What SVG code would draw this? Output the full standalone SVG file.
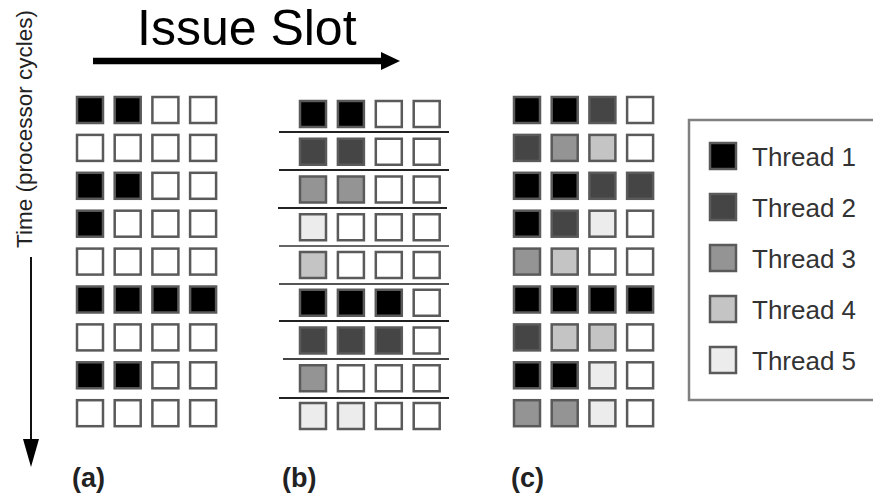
<svg xmlns="http://www.w3.org/2000/svg" width="873" height="495" viewBox="0 0 873 495">
<style>
rect.c{stroke:#5a5a5a;stroke-width:2.5;width:26px;height:26px}
.t0{fill:#ffffff}
.t1{fill:#000000}
.t2{fill:#454545}
.t3{fill:#949494}
.t4{fill:#c4c4c4}
.t5{fill:#ececec}
.sep{stroke:#222;stroke-width:2}
.lbl{font-family:"Liberation Sans",Arial,sans-serif;font-weight:bold;font-size:27px;fill:#222}
.leg{font-family:"Liberation Sans",Arial,sans-serif;font-size:26px;fill:#333}
</style>
<rect width="873" height="495" fill="#fff"/>
<g id="title">
<text x="137" y="45" font-family="Liberation Sans, Arial, sans-serif" font-size="50" fill="#000">Issue Slot</text>
</g>
<g id="time-label">
<text transform="translate(32,248) rotate(-90)" font-family="Liberation Sans, Arial, sans-serif" font-size="22.5" fill="#222">Time (processor cycles)</text>
</g>
<g id="connectors">
<line x1="93" y1="61" x2="384" y2="61" stroke="#000" stroke-width="6.5"/>
<polygon points="381,52 400,61 381,70" fill="#000"/>
<line x1="31" y1="257" x2="31" y2="442" stroke="#111" stroke-width="2"/>
<polygon points="23,439 39,439 31,467" fill="#000"/>
</g>
<g id="panel-a" transform="translate(76,96)">
<rect class="c t1" x="1" y="1"/><rect class="c t1" x="38.7" y="1"/><rect class="c t0" x="76.4" y="1"/><rect class="c t0" x="114.1" y="1"/>
<rect class="c t0" x="1" y="38.9"/><rect class="c t0" x="38.7" y="38.9"/><rect class="c t0" x="76.4" y="38.9"/><rect class="c t0" x="114.1" y="38.9"/>
<rect class="c t1" x="1" y="76.8"/><rect class="c t1" x="38.7" y="76.8"/><rect class="c t0" x="76.4" y="76.8"/><rect class="c t0" x="114.1" y="76.8"/>
<rect class="c t1" x="1" y="114.7"/><rect class="c t0" x="38.7" y="114.7"/><rect class="c t0" x="76.4" y="114.7"/><rect class="c t0" x="114.1" y="114.7"/>
<rect class="c t0" x="1" y="152.6"/><rect class="c t0" x="38.7" y="152.6"/><rect class="c t0" x="76.4" y="152.6"/><rect class="c t0" x="114.1" y="152.6"/>
<rect class="c t1" x="1" y="190.5"/><rect class="c t1" x="38.7" y="190.5"/><rect class="c t1" x="76.4" y="190.5"/><rect class="c t1" x="114.1" y="190.5"/>
<rect class="c t0" x="1" y="228.4"/><rect class="c t0" x="38.7" y="228.4"/><rect class="c t0" x="76.4" y="228.4"/><rect class="c t0" x="114.1" y="228.4"/>
<rect class="c t1" x="1" y="266.3"/><rect class="c t1" x="38.7" y="266.3"/><rect class="c t0" x="76.4" y="266.3"/><rect class="c t0" x="114.1" y="266.3"/>
<rect class="c t0" x="1" y="304.2"/><rect class="c t0" x="38.7" y="304.2"/><rect class="c t0" x="76.4" y="304.2"/><rect class="c t0" x="114.1" y="304.2"/>
</g>
<g id="label-a"><text class="lbl" x="72" y="487">(a)</text></g>
<g id="panel-b">
<line class="sep" x1="279" y1="132" x2="449" y2="132"/>
<line class="sep" x1="279" y1="170" x2="449" y2="170"/>
<line class="sep" x1="278" y1="208" x2="447" y2="208"/>
<line class="sep" x1="279" y1="246" x2="449" y2="246" style="stroke:#666"/>
<line class="sep" x1="279" y1="284" x2="449" y2="284" style="stroke:#555"/>
<line class="sep" x1="279" y1="321" x2="449" y2="321"/>
<line class="sep" x1="283" y1="359" x2="449" y2="359" style="stroke:#444"/>
<line class="sep" x1="279" y1="398" x2="449" y2="398"/>
<g transform="translate(299,100)">
<rect class="c t1" x="1" y="1"/><rect class="c t1" x="38.9" y="1"/><rect class="c t0" x="76.8" y="1"/><rect class="c t0" x="114.7" y="1"/>
<rect class="c t2" x="1" y="38.75"/><rect class="c t2" x="38.9" y="38.75"/><rect class="c t0" x="76.8" y="38.75"/><rect class="c t0" x="114.7" y="38.75"/>
<rect class="c t3" x="1" y="76.5"/><rect class="c t3" x="38.9" y="76.5"/><rect class="c t0" x="76.8" y="76.5"/><rect class="c t0" x="114.7" y="76.5"/>
<rect class="c t5" x="1" y="114.25"/><rect class="c t0" x="38.9" y="114.25"/><rect class="c t0" x="76.8" y="114.25"/><rect class="c t0" x="114.7" y="114.25"/>
<rect class="c t4" x="1" y="152"/><rect class="c t0" x="38.9" y="152"/><rect class="c t0" x="76.8" y="152"/><rect class="c t0" x="114.7" y="152"/>
<rect class="c t1" x="1" y="189.75"/><rect class="c t1" x="38.9" y="189.75"/><rect class="c t1" x="76.8" y="189.75"/><rect class="c t0" x="114.7" y="189.75"/>
<rect class="c t2" x="1" y="227.5"/><rect class="c t2" x="38.9" y="227.5"/><rect class="c t2" x="76.8" y="227.5"/><rect class="c t0" x="114.7" y="227.5"/>
<rect class="c t3" x="1" y="265.25"/><rect class="c t0" x="38.9" y="265.25"/><rect class="c t0" x="76.8" y="265.25"/><rect class="c t0" x="114.7" y="265.25"/>
<rect class="c t5" x="1" y="303"/><rect class="c t5" x="38.9" y="303"/><rect class="c t0" x="76.8" y="303"/><rect class="c t0" x="114.7" y="303"/>
</g>
</g>
<g id="label-b"><text class="lbl" x="282" y="487">(b)</text></g>
<g id="panel-c" transform="translate(513,96)">
<rect class="c t1" x="1" y="1"/><rect class="c t1" x="38.7" y="1"/><rect class="c t2" x="76.4" y="1"/><rect class="c t0" x="114.1" y="1"/>
<rect class="c t2" x="1" y="38.9"/><rect class="c t3" x="38.7" y="38.9"/><rect class="c t4" x="76.4" y="38.9"/><rect class="c t0" x="114.1" y="38.9"/>
<rect class="c t1" x="1" y="76.8"/><rect class="c t1" x="38.7" y="76.8"/><rect class="c t2" x="76.4" y="76.8"/><rect class="c t2" x="114.1" y="76.8"/>
<rect class="c t1" x="1" y="114.7"/><rect class="c t2" x="38.7" y="114.7"/><rect class="c t5" x="76.4" y="114.7"/><rect class="c t0" x="114.1" y="114.7"/>
<rect class="c t3" x="1" y="152.6"/><rect class="c t4" x="38.7" y="152.6"/><rect class="c t0" x="76.4" y="152.6"/><rect class="c t0" x="114.1" y="152.6"/>
<rect class="c t1" x="1" y="190.5"/><rect class="c t1" x="38.7" y="190.5"/><rect class="c t1" x="76.4" y="190.5"/><rect class="c t1" x="114.1" y="190.5"/>
<rect class="c t2" x="1" y="228.4"/><rect class="c t4" x="38.7" y="228.4"/><rect class="c t4" x="76.4" y="228.4"/><rect class="c t0" x="114.1" y="228.4"/>
<rect class="c t1" x="1" y="266.3"/><rect class="c t1" x="38.7" y="266.3"/><rect class="c t5" x="76.4" y="266.3"/><rect class="c t0" x="114.1" y="266.3"/>
<rect class="c t3" x="1" y="304.2"/><rect class="c t3" x="38.7" y="304.2"/><rect class="c t5" x="76.4" y="304.2"/><rect class="c t0" x="114.1" y="304.2"/>
</g>
<g id="label-c"><text class="lbl" x="511" y="487">(c)</text></g>
<g id="legend">
<rect x="689" y="120" width="210" height="280" fill="#fff" stroke="#808080" stroke-width="2.5"/>
<g id="legend-1"><rect class="c t1" x="710" y="143"/><text class="leg" x="752" y="166">Thread 1</text></g>
<g id="legend-2"><rect class="c t2" x="710" y="194"/><text class="leg" x="752" y="217">Thread 2</text></g>
<g id="legend-3"><rect class="c t3" x="710" y="245"/><text class="leg" x="752" y="268">Thread 3</text></g>
<g id="legend-4"><rect class="c t4" x="710" y="296"/><text class="leg" x="752" y="319">Thread 4</text></g>
<g id="legend-5"><rect class="c t5" x="710" y="347"/><text class="leg" x="752" y="370">Thread 5</text></g>
</g>
</svg>
